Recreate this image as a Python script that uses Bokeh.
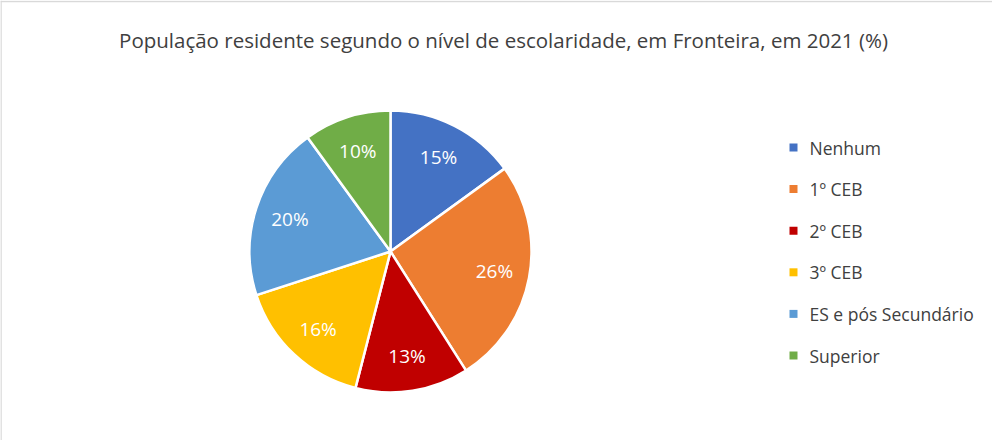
import math
from bokeh.plotting import figure
from bokeh.models import Range1d, ColumnDataSource, Span
from bokeh.core.properties import value
from bokeh.embed import file_html
from bokeh.resources import INLINE

title_text = "População residente segundo o nível de escolaridade, em Fronteira, em 2021 (%)"
categories = ["Nenhum", "1º CEB", "2º CEB", "3º CEB", "ES e pós Secundário", "Superior"]
values = [15, 26, 13, 16, 20, 10]
colors = ["#4472C4", "#ED7D31", "#C00000", "#FFC000", "#5B9BD5", "#70AD47"]

W, H = 992, 440
p = figure(width=W, height=H, output_backend="svg", toolbar_location=None,
           x_range=Range1d(0, W), y_range=Range1d(0, H), min_border=0)
p.axis.visible = False
p.grid.visible = False
p.outline_line_color = None
p.background_fill_color = "white"
p.border_fill_color = "white"

# chart frame (left and top edges visible in reference)
p.add_layout(Span(location=0.5, dimension="height", line_color="#d9d9d9", line_width=1.5))
p.add_layout(Span(location=H - 1, dimension="width", line_color="#d9d9d9", line_width=1.5))

cx, cy, R = 390, 440 - 251, 141
total = sum(values)
starts, ends, lx, ly, labels = [], [], [], [], []
cum = 0
for v in values:
    a0 = math.pi / 2 - 2 * math.pi * cum / total
    cum += v
    a1 = math.pi / 2 - 2 * math.pi * cum / total
    starts.append(a0)
    ends.append(a1)
    mid = (a0 + a1) / 2
    lx.append(cx + 0.75 * R * math.cos(mid))
    ly.append(cy + 0.75 * R * math.sin(mid))
    labels.append(f"{v}%")

src = ColumnDataSource(dict(start=starts, end=ends, color=colors, lx=lx, ly=ly, label=labels))
p.wedge(x=cx, y=cy, radius=R, start_angle="start", end_angle="end", direction="clock",
        fill_color="color", line_color="white", line_width=2.5, source=src)
p.text(x="lx", y="ly", text="label", source=src, text_color="white",
       text_font=value("Open Sans"), text_font_size="19px",
       text_align="center", text_baseline="middle")

# title
p.text(x=[503], y=[440 - 39], text=[title_text], text_font=value("Open Sans"),
       text_font_size="20.5px", text_color="#404040",
       text_align="center", text_baseline="middle")

# legend
leg_y = [440 - (155 - 8 + i * 41.6) for i in range(len(categories))]
p.scatter(x=[793] * len(categories), y=leg_y, marker="square", size=8,
          fill_color=colors, line_color=None)
p.text(x=[809] * len(categories), y=leg_y, text=categories, text_font=value("Open Sans"),
       text_font_size="17.5px", text_color="#404040", text_align="left", text_baseline="middle")

open("out.html", "w").write(file_html(p, INLINE))
